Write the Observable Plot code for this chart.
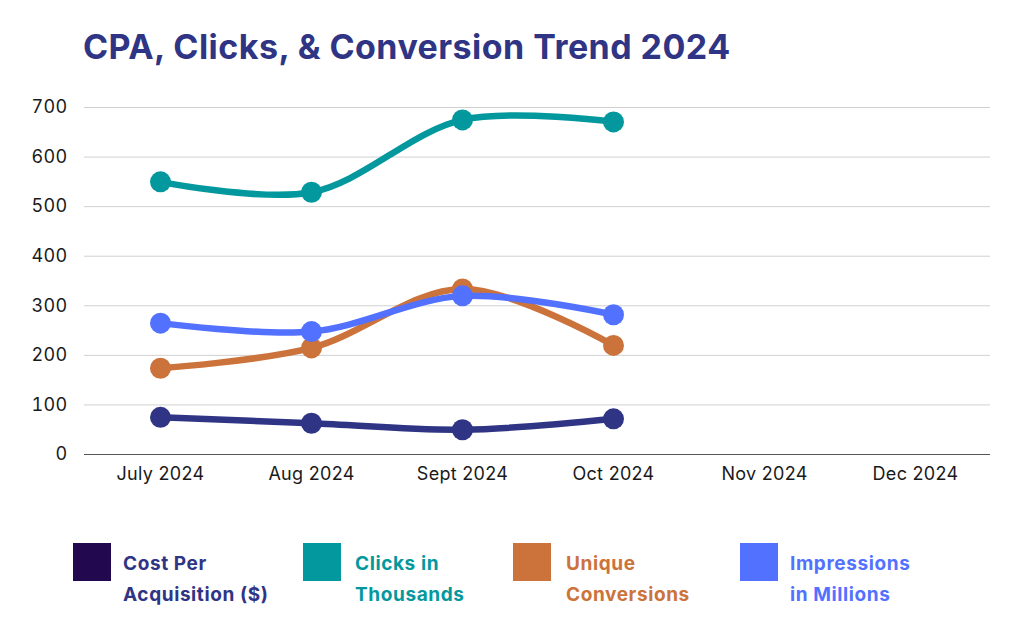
<!DOCTYPE html>
<html>
<head>
<meta charset="utf-8">
<script src="https://cdn.jsdelivr.net/npm/d3@7"></script>
<script src="https://cdn.jsdelivr.net/npm/@observablehq/plot@0.6"></script>
<style>
  body { margin: 0; width: 1024px; height: 640px; background: #fff; position: relative; overflow: hidden; font-family: Inter, "Open Sans", sans-serif; }
  #title { position: absolute; left: 83px; top: 26px; font-size: 34px; font-weight: 700; color: #2f3584; letter-spacing: 0.45px; }
  #chart { position: absolute; left: 0; top: 90px; }
  #legend { position: absolute; left: 73px; top: 543px; }
  .item { position: absolute; top: 0; }
  .sw { position: absolute; left: 0; top: 0; width: 38px; height: 38px; }
  .lab { position: absolute; top: 5px; font-size: 19px; font-weight: 700; line-height: 31px; white-space: nowrap; letter-spacing: 0.6px; }
</style>
</head>
<body>
<div id="title">CPA, Clicks, &amp; Conversion Trend 2024</div>
<div id="chart"></div>
<div id="legend"></div>
<script>
const months = ["July 2024", "Aug 2024", "Sept 2024", "Oct 2024", "Nov 2024", "Dec 2024"];
const seriesNames = ["Cost Per Acquisition ($)", "Clicks in Thousands", "Unique Conversions", "Impressions in Millions"];
const legendLines = [["Cost Per", "Acquisition ($)"], ["Clicks in", "Thousands"], ["Unique", "Conversions"], ["Impressions", "in Millions"]];
const cpa = [75, 63, 50, 72];
const clicks = [550, 529, 675, 671];
const conversions = [174, 215, 334, 220];
const impressions = [265, 248, 320, 282];
const lineColors = ["#2f3584", "#03989e", "#cc723b", "#5271ff"];
const swatchColors = ["#22094f", "#03989e", "#cc723b", "#5271ff"];
const textColors = ["#2f3584", "#03989e", "#cc723b", "#5271ff"];
const yTicks = [0, 100, 200, 300, 400, 500, 600, 700];

const allValues = [cpa, clicks, conversions, impressions];
const rows = [];
allValues.forEach((vals, si) => vals.forEach((v, i) => rows.push({series: seriesNames[si], month: months[i], value: v})));

const marks = [
  Plot.gridY(yTicks, {stroke: "#d0d0d0", strokeOpacity: 1, strokeWidth: 1}),
  Plot.ruleY([0], {stroke: "#555", strokeWidth: 1}),
  Plot.axisX({tickSize: 0, tickPadding: 13, fontSize: 18, fill: "#1a1a1a", label: null}),
  Plot.axisY(yTicks, {tickSize: 0, tickPadding: 17, fontSize: 18, fill: "#1a1a1a", label: null, tickFormat: d => String(d)})
];
seriesNames.forEach((name, si) => {
  const d = rows.filter(r => r.series === name);
  marks.push(Plot.line(d, {x: "month", y: "value", stroke: lineColors[si], strokeWidth: 6.5, curve: "catmull-rom"}));
  marks.push(Plot.dot(d, {x: "month", y: "value", fill: lineColors[si], r: 10.5}));
});

const plot = Plot.plot({
  width: 1024,
  height: 410,
  marginTop: 17,
  marginBottom: 46,
  marginLeft: 84,
  marginRight: 34,
  style: {fontFamily: "Inter, 'Open Sans', sans-serif", fontSize: "18px", background: "#fff", letterSpacing: "0.3px"},
  x: {type: "point", domain: months, padding: 0.5},
  y: {domain: [0, 700], ticks: yTicks},
  marks
});
document.getElementById("chart").appendChild(plot);

const legend = document.getElementById("legend");
const offsets = [0, 230, 440, 667];
const textOffsets = [50, 52, 53, 50];
seriesNames.forEach((name, si) => {
  const it = document.createElement("div");
  it.className = "item";
  it.style.left = offsets[si] + "px";
  const sw = document.createElement("div");
  sw.className = "sw";
  sw.style.background = swatchColors[si];
  const lab = document.createElement("div");
  lab.className = "lab";
  lab.style.left = textOffsets[si] + "px";
  lab.style.color = textColors[si];
  lab.innerHTML = legendLines[si].join("<br>");
  it.appendChild(sw);
  it.appendChild(lab);
  legend.appendChild(it);
});
</script>
</body>
</html>
